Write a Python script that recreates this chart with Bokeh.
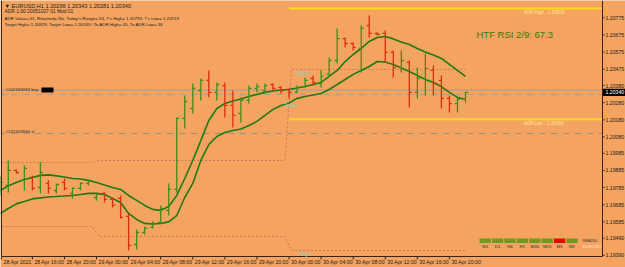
from bokeh.plotting import figure
from bokeh.models import ColumnDataSource, Range1d, Label, BoxAnnotation, Span
from bokeh.embed import file_html
from bokeh.resources import INLINE

# ---------------- data ----------------
header_lines = [
    "\u25bc EURUSD,H1  1.20299 1.20343 1.20281 1.20340",
    "ADR 1.00 20051027 01 Mod 01",
    "ADR Value= 61, Reached= No, Today's Range= 53, T's High= 1.20793, T's Low= 1.20219",
    "Target High= 1.20829, Target Low= 1.20183 / To ADR High= 45, To ADR Low= 36",
]
bar_index = list(range(59))
opens = [1.19780, 1.19797, 1.19885, 1.19827, 1.19844, 1.19786, 1.19809, 1.19768, 1.19815, 1.19751,
         1.19780, 1.19809, 1.19727, 1.19751, 1.19716, 1.19722, 1.19617, 1.19453, 1.19523, 1.19553,
         1.19582, 1.19652, 1.19774, 1.20188, 1.20246, 1.20351, 1.20410, 1.20340, 1.20380, 1.20264,
         1.20217, 1.20293, 1.20363, 1.20351, 1.20386, 1.20369, 1.20357, 1.20340, 1.20374, 1.20421,
         1.20392, 1.20445, 1.20526, 1.20654, 1.20625, 1.20596, 1.20730, 1.20684, 1.20684, 1.20573,
         1.20485, 1.20515, 1.20340, 1.20421, 1.20468, 1.20410, 1.20305, 1.20275, 1.20299]
highs = [1.19856, 1.19943, 1.19891, 1.19914, 1.19856, 1.19932, 1.19827, 1.19809, 1.19838, 1.19786,
         1.19815, 1.19832, 1.19757, 1.19757, 1.19727, 1.19739, 1.19634, 1.19541, 1.19558, 1.19588,
         1.19681, 1.19809, 1.20194, 1.20322, 1.20392, 1.20421, 1.20468, 1.20398, 1.20398, 1.20351,
         1.20311, 1.20380, 1.20392, 1.20392, 1.20392, 1.20374, 1.20363, 1.20380, 1.20427, 1.20439,
         1.20468, 1.20544, 1.20713, 1.20660, 1.20631, 1.20730, 1.20789, 1.20689, 1.20701, 1.20585,
         1.20585, 1.20526, 1.20485, 1.20567, 1.20497, 1.20439, 1.20322, 1.20311, 1.20343]
lows = [1.19739, 1.19757, 1.19867, 1.19768, 1.19768, 1.19751, 1.19751, 1.19751, 1.19768, 1.19722,
        1.19768, 1.19797, 1.19710, 1.19698, 1.19669, 1.19605, 1.19418, 1.19424, 1.19512, 1.19547,
        1.19576, 1.19622, 1.19757, 1.20130, 1.20217, 1.20293, 1.20311, 1.20293, 1.20194, 1.20136,
        1.20165, 1.20275, 1.20340, 1.20334, 1.20351, 1.20334, 1.20305, 1.20334, 1.20369, 1.20380,
        1.20369, 1.20439, 1.20509, 1.20602, 1.20585, 1.20456, 1.20660, 1.20672, 1.20515, 1.20427,
        1.20456, 1.20252, 1.20305, 1.20322, 1.20322, 1.20246, 1.20223, 1.20223, 1.20281]
closes = [1.19815, 1.19885, 1.19873, 1.19897, 1.19780, 1.19873, 1.19780, 1.19803, 1.19780, 1.19780,
          1.19809, 1.19821, 1.19745, 1.19716, 1.19681, 1.19611, 1.19448, 1.19523, 1.19547, 1.19576,
          1.19663, 1.19774, 1.20188, 1.20287, 1.20363, 1.20410, 1.20340, 1.20386, 1.20264, 1.20206,
          1.20293, 1.20363, 1.20374, 1.20380, 1.20363, 1.20351, 1.20340, 1.20369, 1.20410, 1.20398,
          1.20433, 1.20526, 1.20654, 1.20625, 1.20602, 1.20713, 1.20684, 1.20678, 1.20573, 1.20485,
          1.20526, 1.20340, 1.20421, 1.20480, 1.20392, 1.20305, 1.20275, 1.20299, 1.20340]
ma_upper = [1.19768, 1.19795, 1.19815, 1.19832, 1.19844, 1.19856, 1.19859, 1.19853, 1.19847, 1.19838,
            1.19835, 1.19827, 1.19815, 1.19800, 1.19786, 1.19774, 1.19739, 1.19710, 1.19681, 1.19658,
            1.19652, 1.19675, 1.19739, 1.19838, 1.19943, 1.20059, 1.20176, 1.20246, 1.20275, 1.20290,
            1.20302, 1.20316, 1.20328, 1.20340, 1.20348, 1.20354, 1.20357, 1.20366, 1.20374, 1.20386,
            1.20398, 1.20433, 1.20468, 1.20520, 1.20561, 1.20596, 1.20637, 1.20660, 1.20666, 1.20652,
            1.20634, 1.20619, 1.20596, 1.20576, 1.20558, 1.20538, 1.20503, 1.20468, 1.20433]
ma_lower = [1.19634, 1.19663, 1.19690, 1.19704, 1.19719, 1.19725, 1.19730, 1.19733, 1.19736, 1.19739,
            1.19745, 1.19751, 1.19751, 1.19745, 1.19722, 1.19698, 1.19634, 1.19599, 1.19576, 1.19573,
            1.19576, 1.19585, 1.19622, 1.19727, 1.19809, 1.19943, 1.20036, 1.20083, 1.20106, 1.20118,
            1.20127, 1.20147, 1.20171, 1.20206, 1.20241, 1.20264, 1.20278, 1.20305, 1.20316, 1.20325,
            1.20334, 1.20357, 1.20386, 1.20415, 1.20445, 1.20468, 1.20491, 1.20520, 1.20517, 1.20503,
            1.20482, 1.20462, 1.20439, 1.20415, 1.20398, 1.20374, 1.20340, 1.20311, 1.20299]
x_tick_index = [0, 4, 8, 12, 16, 20, 24, 28, 32, 36, 40, 44, 48, 52, 56]
x_tick_labels = ["28 Apr 2021", "28 Apr 16:00", "28 Apr 20:00", "29 Apr 00:00", "29 Apr 04:00",
                 "29 Apr 08:00", "29 Apr 12:00", "29 Apr 16:00", "29 Apr 20:00", "30 Apr 00:00",
                 "30 Apr 04:00", "30 Apr 08:00", "30 Apr 12:00", "30 Apr 16:00", "30 Apr 20:00"]
y_ticks = [1.20775, 1.20675, 1.20575, 1.20475, 1.20380, 1.20280, 1.20180, 1.20080,
           1.19985, 1.19885, 1.19785, 1.19685, 1.19585, 1.19490, 1.19390]
current_price = 1.20340
adr_high = 1.20829
adr_low = 1.20183
day_bounds = [0, 12, 36, 58]
prev_day_high = [1.19931, 1.19943, 1.20474]
prev_day_low = [1.19558, 1.19500, 1.19418]
buy_price = 1.20354
bid_price = 1.20328
sl_price = 1.20101
buy_text = "#102343094 buy"
sl_text = "#102343594 sl"
rsi_text = "HTF RSI 2/9: 67.3"
timeframes = ["W1", "D1", "H4", "H1", "M30", "M15", "M5", "M1"]
tf_state = ["up", "up", "up", "up", "up", "up", "down", "up"]

# ---------------- layout constants ----------------
BG = "#F4A460"
FRAME = "#3a2410"
FONT = "Liberation Sans"
W, H = 625, 267
BAR_PX = 8.02            # pixels per bar
PRICE_PX = 0.00005831    # price per pixel
CH_LEFT_PX, CH_RIGHT_PX, CH_TOP_PX, CH_BOTTOM_PX = 1, 602, 1, 256
CH_LEFT_T = 0.15
CH_TOP_P = 1.20870

x_start = CH_LEFT_T - CH_LEFT_PX / BAR_PX
x_end = x_start + W / BAR_PX
y_top = CH_TOP_P + CH_TOP_PX * PRICE_PX
y_bottom = y_top - H * PRICE_PX
ch_left = CH_LEFT_T
ch_right = x_start + CH_RIGHT_PX / BAR_PX
ch_bottom = y_top - CH_BOTTOM_PX * PRICE_PX
ch_top = y_top - CH_TOP_PX * PRICE_PX
dx = 1.0 / BAR_PX        # one pixel in x data units
dy = PRICE_PX            # one pixel in y data units

p = figure(width=W, height=H, output_backend="svg", toolbar_location=None,
           x_range=Range1d(x_start, x_end), y_range=Range1d(y_bottom, y_top),
           x_axis_location=None, y_axis_location=None, min_border=0,
           background_fill_color=BG, border_fill_color=BG, outline_line_color=None)
p.grid.visible = False


def scr_y(canvas_y):
    return H - canvas_y


# previous day high/low dotted levels
for levels in (prev_day_high, prev_day_low):
    xs, ys = [], []
    for k, lv in enumerate(levels):
        x0 = day_bounds[k] + 0.3 if k > 0 else ch_left
        x1 = day_bounds[k + 1] - (0.5 if k < len(levels) - 1 else 0)
        xs += [x0, x1]
        ys += [lv, lv]
    p.line(xs, ys, line_color="#c9785f", line_width=1, line_dash="2 2")

# order lines (across the chart area)
p.segment(x0=[ch_left] * 3, x1=[ch_right] * 3, y0=[buy_price, bid_price, sl_price],
          y1=[buy_price, bid_price, sl_price], line_color=["#9c9c9c", "#a39c94", "#9a8c80"],
          line_width=1, line_dash="solid")
p.segment(x0=[ch_left] * 2, x1=[ch_right] * 2, y0=[bid_price, sl_price], y1=[bid_price, sl_price],
          line_color=BG, line_width=1.2, line_dash="0 4 2")

# ADR lines
ds = day_bounds[2]
p.segment(x0=[ds, ds], x1=[ch_right] * 2, y0=[adr_high, adr_low], y1=[adr_high, adr_low],
          line_color="#FFD823", line_width=2)

# moving average bands
p.line(bar_index, ma_upper, line_color="#1f7a12", line_width=1.6)
p.line(bar_index, ma_lower, line_color="#1f7a12", line_width=1.6)

# OHLC bars
colors = ["#3f8f17" if c >= o else "#d8300c" for o, c in zip(opens, closes)]
src = ColumnDataSource(dict(x=bar_index, o=opens, h=highs, l=lows, c=closes, col=colors,
                            xl=[i - 0.32 for i in bar_index], xr=[i + 0.32 for i in bar_index]))
p.segment(x0="x", x1="x", y0="l", y1="h", line_color="col", line_width=1.3, source=src)
p.segment(x0="xl", x1="x", y0="o", y1="o", line_color="col", line_width=1.3, source=src)
p.segment(x0="x", x1="xr", y0="c", y1="c", line_color="col", line_width=1.3, source=src)

# chart frame: left edge, bottom (time axis), right (price axis)
p.segment(x0=[ch_left, ch_left, ch_right], x1=[ch_left, ch_right, ch_right],
          y0=[ch_bottom, ch_bottom, ch_bottom], y1=[y_top, ch_bottom, y_top],
          line_color=FRAME, line_width=1)

# price axis ticks + labels
p.segment(x0=[ch_right] * len(y_ticks), x1=[ch_right + 2 * dx] * len(y_ticks), y0=y_ticks, y1=y_ticks,
          line_color=FRAME, line_width=1)
for t in y_ticks:
    p.add_layout(Label(x=ch_right + 3 * dx, y=t, text="%.5f" % t, text_font=FONT,
                       text_font_size="5.2px", text_color="#1a1a1a", text_baseline="middle",
                       text_align="left"))

# current price tag
p.quad(left=[ch_right + 0.5 * dx], right=[x_end], top=[current_price + 3.6 * dy],
       bottom=[current_price - 3.6 * dy], fill_color="black", line_color=None)
p.add_layout(Label(x=ch_right + 3 * dx, y=current_price, text="%.5f" % current_price, text_font=FONT,
                   text_font_size="5.2px", text_color="white", text_baseline="middle",
                   text_align="left"))

# time axis ticks + labels
tick_x = [max(t, ch_left) for t in x_tick_index]
p.segment(x0=tick_x, x1=tick_x, y0=[ch_bottom] * len(tick_x), y1=[ch_bottom - 3 * dy] * len(tick_x),
          line_color=FRAME, line_width=1)
for t, lab in zip(tick_x, x_tick_labels):
    p.add_layout(Label(x=t + 2 * dx, y=ch_bottom - 5.5 * dy, text=lab, text_font=FONT,
                       text_font_size="5.2px", text_color="#1a1a1a", text_baseline="middle",
                       text_align="left"))

# header texts
hdr_sizes = ["5.6px", "4.9px", "4.4px", "4.4px"]
hdr_y = [5, 11, 17.5, 24]
for txt, fs, yy in zip(header_lines, hdr_sizes, hdr_y):
    p.add_layout(Label(x=4, y=scr_y(yy), x_units="screen", y_units="screen", text=txt,
                       text_font=FONT, text_font_size=fs, text_color="#1c1c1c",
                       text_baseline="middle", text_align="left"))

p.add_layout(Label(x=476, y=scr_y(33.5), x_units="screen", y_units="screen", text=rsi_text,
                   text_font=FONT, text_font_size="9.5px", text_color="#3b7a06",
                   text_baseline="middle", text_align="left"))

# order labels
p.add_layout(Label(x=ch_left + 4 * dx, y=buy_price + 0.5 * dy, text=buy_text, text_font=FONT,
                   text_font_size="4.4px", text_color="#2a2a2a", text_baseline="middle"))
p.quad(left=[ch_left + 40 * dx], right=[ch_left + 52 * dx], top=[buy_price + 2.5 * dy],
       bottom=[buy_price - 2.5 * dy], fill_color="black", line_color=None)
p.add_layout(Label(x=ch_left + 4 * dx, y=sl_price + 1.5 * dy, text=sl_text, text_font=FONT,
                   text_font_size="4.4px", text_color="#2a2a2a", text_baseline="middle"))

# ADR tags
p.add_layout(Label(x=ch_left + 522 * dx, y=adr_high - 4 * dy, text="ADR High : %.5f" % adr_high,
                   text_font=FONT, text_font_size="4.6px", text_color="#ffe89a", text_baseline="middle"))
p.add_layout(Label(x=ch_left + 522 * dx, y=adr_low - 4 * dy, text="ADR Low : %.5f" % adr_low,
                   text_font=FONT, text_font_size="4.6px", text_color="#ffe89a", text_baseline="middle"))

# teal level tags
p.add_layout(Label(x=ds + 0.8, y=prev_day_high[2] - 4 * dy, text="Target", text_font=FONT,
                   text_font_size="4.6px", text_color="#86d3c3", text_baseline="middle"))
p.add_layout(Label(x=ds - 0.6, y=ma_lower[35], text="Target", text_font=FONT,
                   text_font_size="4.6px", text_color="#86d3c3", text_baseline="middle"))
p.add_layout(Label(x=ds + 1.2, y=prev_day_low[2] - 3.5 * dy, text="Target", text_font=FONT,
                   text_font_size="4.6px", text_color="#86d3c3", text_baseline="middle"))

# timeframe trend panel
for i, (tf, st) in enumerate(zip(timeframes, tf_state)):
    left = 479 + 12.4 * i
    p.add_layout(BoxAnnotation(left=left, right=left + 11.4, top=scr_y(238), bottom=scr_y(242.5),
                               left_units="screen", right_units="screen", top_units="screen",
                               bottom_units="screen",
                               fill_color="#6f9a22" if st == "up" else "#e00b00", fill_alpha=1,
                               line_color=None))
    p.add_layout(Label(x=left + 5.7, y=scr_y(246), x_units="screen", y_units="screen", text=tf,
                       text_font=FONT, text_font_size="4.4px", text_color="#2a2a2a",
                       text_baseline="middle", text_align="center"))
p.add_layout(Label(x=582, y=scr_y(240), x_units="screen", y_units="screen", text="SMA200",
                   text_font=FONT, text_font_size="3.8px", text_color="#3a2a1a",
                   text_baseline="middle", text_align="left"))
p.add_layout(Label(x=582, y=scr_y(246), x_units="screen", y_units="screen", text="EURUSD",
                   text_font=FONT, text_font_size="4.4px", text_color="#fbe6cf",
                   text_baseline="middle", text_align="left"))

open("out.html", "w").write(file_html(p, INLINE))
